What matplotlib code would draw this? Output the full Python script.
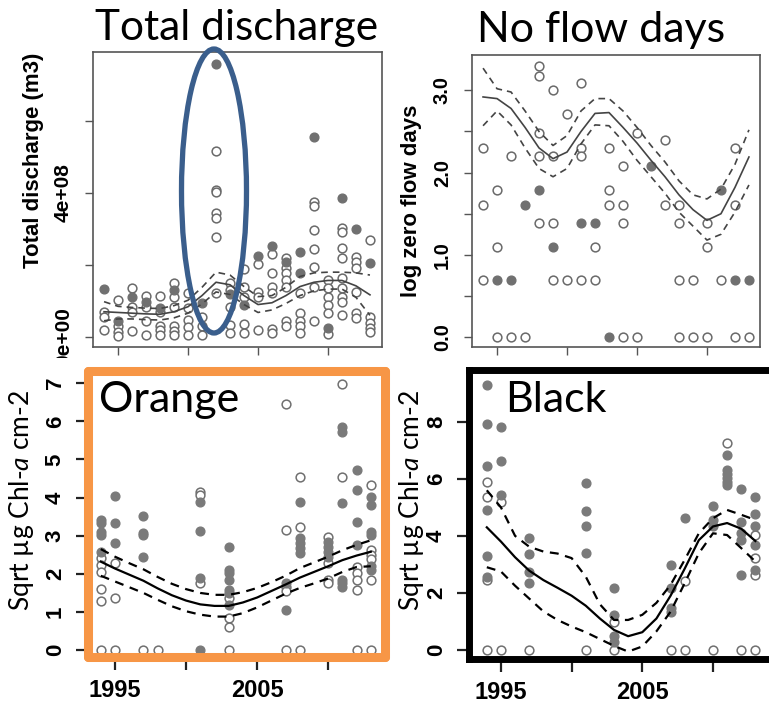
import matplotlib
matplotlib.use("Agg")
import matplotlib.pyplot as plt
from matplotlib.patches import Ellipse, Rectangle

plt.rcParams['mathtext.fontset'] = 'custom'
plt.rcParams['mathtext.rm'] = 'Lato'
plt.rcParams['mathtext.it'] = 'Lato:italic'

# ---------------- data ----------------
years = list(range(1994, 2014))

# Total discharge (units of 1e8 m3)
tl_open = [
    (1994, 0.70), (1994, 0.56), (1994, 0.19),
    (1995, 1.03), (1995, 0.29), (1995, 0.15), (1995, 0.03),
    (1996, 1.36), (1996, 0.84), (1996, 0.70), (1996, 0.17),
    (1997, 1.14), (1997, 0.84), (1997, 0.43), (1997, 0.06),
    (1998, 1.14), (1998, 0.68), (1998, 0.31), (1998, 0.18), (1998, 0.04),
    (1999, 1.51), (1999, 1.12), (1999, 0.82), (1999, 0.31), (1999, 0.17), (1999, 0.04),
    (2000, 1.21), (2000, 0.80), (2000, 0.47), (2000, 0.28), (2000, 0.04),
    (2001, 0.56), (2001, 0.29), (2001, 0.04),
    (2002, 5.18), (2002, 4.08), (2002, 4.04), (2002, 3.45), (2002, 3.30), (2002, 2.79), (2002, 1.21),
    (2003, 1.50), (2003, 1.30), (2003, 0.84), (2003, 0.33), (2003, 0.10),
    (2004, 1.88), (2004, 1.38), (2004, 1.12), (2004, 0.36), (2004, 0.12),
    (2005, 2.03), (2005, 1.26), (2005, 1.12), (2005, 0.19),
    (2006, 2.31), (2006, 1.77), (2006, 1.40), (2006, 1.22), (2006, 0.21), (2006, 0.10),
    (2007, 2.19), (2007, 1.91), (2007, 1.77), (2007, 1.58), (2007, 1.40), (2007, 0.43), (2007, 0.29),
    (2008, 1.22), (2008, 0.66), (2008, 0.43), (2008, 0.29), (2008, 0.10),
    (2009, 3.74), (2009, 3.65), (2009, 2.97), (2009, 2.44), (2009, 1.95), (2009, 1.40), (2009, 0.43),
    (2010, 1.58), (2010, 1.35), (2010, 1.12), (2010, 0.89), (2010, 0.66), (2010, 0.08),
    (2011, 3.02), (2011, 2.93), (2011, 2.47), (2011, 2.19), (2011, 1.64), (2011, 1.35), (2011, 1.12), (2011, 0.98), (2011, 0.61),
    (2012, 2.23), (2012, 2.07), (2012, 1.91), (2012, 1.26), (2012, 0.66), (2012, 0.52),
    (2013, 2.69), (2013, 0.56), (2013, 0.40), (2013, 0.24), (2013, 0.15),
]
tl_filled = [
    (1994, 1.32), (1995, 0.44), (1996, 1.12), (1997, 0.97), (1998, 0.80),
    (1999, 1.31), (2001, 0.94), (2002, 7.60), (2003, 1.19), (2004, 0.90),
    (2005, 2.25), (2006, 2.53), (2007, 2.07), (2008, 2.37), (2008, 1.77),
    (2009, 5.56), (2010, 0.24), (2011, 3.87), (2012, 2.99), (2013, 2.05),
]
tl_fit = [0.70, 0.68, 0.66, 0.64, 0.63, 0.70, 0.84, 1.15, 1.52, 1.45,
          1.15, 0.90, 0.95, 1.15, 1.40, 1.52, 1.57, 1.57, 1.42, 1.17]
tl_upper = [0.98, 0.85, 0.82, 0.80, 0.79, 0.87, 1.02, 1.38, 1.80, 1.72,
            1.40, 1.12, 1.15, 1.38, 1.68, 1.78, 1.80, 1.80, 1.78, 1.72]
tl_lower = [0.45, 0.50, 0.50, 0.48, 0.47, 0.53, 0.66, 0.92, 1.25, 1.18,
            0.90, 0.68, 0.75, 0.93, 1.15, 1.28, 1.33, 1.33, 1.10, 0.60]
tl_yticks = [0, 2e8, 4e8, 6e8]
tl_yticklabels = ['0e+00', '', '4e+08', '']

# No flow days (log)
tr_open = [
    (1994, 2.30), (1994, 1.61), (1994, 0.69),
    (1995, 1.79), (1995, 1.10), (1995, 0.0),
    (1996, 2.20), (1996, 0.0),
    (1997, 0.0),
    (1998, 3.30), (1998, 3.18), (1998, 2.48), (1998, 2.20), (1998, 1.39),
    (1999, 3.00), (1999, 2.20), (1999, 1.39), (1999, 0.69),
    (2000, 2.71), (2000, 0.69),
    (2001, 3.09), (2001, 2.30), (2001, 2.20), (2001, 0.69),
    (2002, 1.10), (2002, 0.69),
    (2003, 2.30), (2003, 1.79), (2003, 1.61),
    (2004, 2.08), (2004, 1.61), (2004, 1.39), (2004, 0.0),
    (2005, 2.48), (2005, 0.0),
    (2007, 2.40), (2007, 1.61),
    (2008, 1.61), (2008, 1.39), (2008, 0.69), (2008, 0.0),
    (2009, 0.69), (2009, 0.0),
    (2010, 1.39), (2010, 1.10), (2010, 0.0),
    (2011, 0.69),
    (2012, 2.30), (2012, 1.61), (2012, 0.0),
    (2013, 0.0),
]
tr_filled = [
    (1995, 0.69), (1996, 0.69), (1997, 1.61), (1998, 1.79), (1999, 1.10),
    (2001, 1.39), (2002, 1.39), (2003, 0.0), (2006, 2.08), (2011, 1.79),
    (2012, 0.69), (2013, 0.69),
]
tr_fit = [2.92, 2.90, 2.78, 2.55, 2.30, 2.17, 2.25, 2.50, 2.72, 2.73,
          2.55, 2.36, 2.15, 1.95, 1.73, 1.55, 1.42, 1.50, 1.82, 2.19]
tr_upper = [3.27, 3.02, 2.98, 2.75, 2.50, 2.33, 2.45, 2.75, 2.90, 2.90,
            2.75, 2.55, 2.33, 2.13, 1.90, 1.73, 1.68, 1.80, 2.10, 2.52]
tr_lower = [2.57, 2.75, 2.58, 2.30, 2.05, 1.95, 2.05, 2.35, 2.58, 2.57,
            2.38, 2.15, 1.95, 1.75, 1.52, 1.35, 1.18, 1.25, 1.52, 1.85]
tr_yticks = [0.0, 0.5, 1.0, 1.5, 2.0, 2.5, 3.0]
tr_yticklabels = ['0.0', '', '1.0', '', '2.0', '', '3.0']

# Orange (sqrt chl-a)
bl_open = [
    (1994, 2.41), (1994, 2.23), (1994, 2.05), (1994, 1.60), (1994, 1.29), (1994, 0),
    (1995, 2.28), (1995, 1.38), (1995, 0),
    (1997, 0), (1998, 0),
    (2001, 4.15), (2001, 4.07), (2001, 1.75),
    (2003, 1.38), (2003, 0.83), (2003, 0.61), (2003, 0),
    (2007, 6.46), (2007, 3.15), (2007, 1.66), (2007, 1.55), (2007, 0),
    (2008, 4.53), (2008, 3.24), (2008, 0),
    (2010, 2.97), (2010, 2.28), (2010, 1.84), (2010, 1.75),
    (2011, 6.97), (2011, 4.53),
    (2012, 2.19), (2012, 2.01), (2012, 1.85), (2012, 1.57), (2012, 0),
    (2013, 4.33), (2013, 2.62), (2013, 2.49), (2013, 2.38), (2013, 1.84), (2013, 0),
]
bl_filled = [
    (1994, 3.40), (1994, 3.33), (1994, 3.10), (1994, 3.02), (1994, 2.58),
    (1995, 4.04), (1995, 3.34), (1995, 2.80),
    (1997, 3.52), (1997, 3.08), (1997, 3.02), (1997, 2.43),
    (2001, 3.89), (2001, 3.13), (2001, 1.88), (2001, 0),
    (2003, 2.71), (2003, 2.10), (2003, 2.03), (2003, 1.84), (2003, 1.57), (2003, 1.50), (2003, 1.18),
    (2007, 1.75), (2007, 1.05),
    (2008, 3.89), (2008, 2.93), (2008, 2.80), (2008, 2.67), (2008, 2.54),
    (2010, 2.84), (2010, 2.71), (2010, 2.58), (2010, 2.45),
    (2011, 5.84), (2011, 5.73), (2011, 3.85), (2011, 1.84), (2011, 1.75), (2011, 1.66),
    (2012, 4.72), (2012, 4.20), (2012, 3.37), (2012, 2.76),
    (2013, 4.02), (2013, 3.81), (2013, 3.10), (2013, 3.02), (2013, 2.20), (2013, 2.10),
]
bl_fit = [2.32, 2.14, 1.98, 1.82, 1.62, 1.44, 1.30, 1.20, 1.16, 1.16,
          1.25, 1.38, 1.55, 1.72, 1.90, 2.05, 2.20, 2.36, 2.48, 2.58]
bl_upper = [2.65, 2.45, 2.28, 2.12, 1.92, 1.74, 1.60, 1.50, 1.45, 1.45,
            1.52, 1.63, 1.78, 1.95, 2.15, 2.30, 2.45, 2.62, 2.76, 2.88]
bl_lower = [1.95, 1.80, 1.65, 1.50, 1.32, 1.15, 1.02, 0.93, 0.88, 0.88,
            0.97, 1.12, 1.30, 1.48, 1.63, 1.75, 1.88, 2.05, 2.18, 2.20]
bl_yticks = [0, 1, 2, 3, 4, 5, 6, 7]

# Black (sqrt chl-a)
br_open = [
    (1994, 5.88), (1994, 5.38), (1994, 2.45), (1994, 0),
    (1995, 5.20), (1995, 0),
    (1997, 0), (2001, 0),
    (2003, 0.99), (2003, 0),
    (2007, 0), (2008, 2.40), (2008, 0), (2010, 0),
    (2011, 7.25), (2012, 0),
    (2013, 4.04), (2013, 3.23), (2013, 2.63), (2013, 0),
]
br_filled = [
    (1994, 9.30), (1994, 7.93), (1994, 6.46), (1994, 4.91), (1994, 3.30), (1994, 2.57),
    (1995, 7.81), (1995, 6.63), (1995, 5.42),
    (1997, 3.92), (1997, 3.37), (1997, 2.75), (1997, 2.34),
    (2001, 5.85), (2001, 4.89), (2001, 4.35), (2001, 3.39),
    (2003, 2.16), (2003, 1.23), (2003, 0.47), (2003, 0.29),
    (2007, 2.98), (2007, 2.18), (2007, 1.47), (2007, 1.33),
    (2008, 4.64),
    (2010, 5.05), (2010, 4.56), (2010, 4.33),
    (2011, 6.84), (2011, 6.32), (2011, 6.18), (2011, 6.04), (2011, 5.90), (2011, 5.79),
    (2012, 5.64), (2012, 4.50), (2012, 4.10), (2012, 3.86), (2012, 2.63),
    (2013, 5.38), (2013, 4.77), (2013, 4.33), (2013, 3.68), (2013, 2.81),
]
br_fit = [4.30, 3.80, 3.25, 2.78, 2.45, 2.18, 1.90, 1.55, 1.10, 0.70,
          0.48, 0.62, 1.10, 1.90, 2.85, 3.85, 4.33, 4.45, 4.25, 3.82]
br_upper = [5.60, 5.00, 4.00, 3.62, 3.45, 3.38, 3.22, 2.57, 1.60, 1.05,
            1.05, 1.23, 1.65, 2.28, 3.16, 4.09, 4.62, 4.91, 4.74, 4.56]
br_lower = [2.90, 2.75, 2.25, 1.80, 1.35, 1.05, 0.82, 0.62, 0.38, 0.14,
            -0.06, 0.12, 0.65, 1.34, 2.34, 3.39, 4.09, 4.03, 3.57, 3.10]
br_yticks = [0, 2, 4, 6, 8]

xticks = [1995, 2000, 2005, 2010]
bottom_xticklabels = ['1995', '', '2005', '']

# ---------------- figure ----------------
W, H = 769, 704
fig = plt.figure(figsize=(W / 100, H / 100), dpi=100)


def px_axes(l, t, r, b):
    return fig.add_axes([l / W, 1 - b / H, (r - l) / W, (b - t) / H])


def scatter(ax, pts, filled, scale=1.0, ms=6.3, fcol='#707070', ecol='#6a6a6a'):
    xs = [p[0] for p in pts]
    ys = [p[1] * scale for p in pts]
    if filled:
        ax.plot(xs, ys, 'o', ms=ms, mfc=fcol, mec=fcol, mew=1.0, ls='none', zorder=2)
    else:
        ax.plot(xs, ys, 'o', ms=ms, mfc='white', mec=ecol, mew=1.1, ls='none', zorder=2)


def smooth(ax, fit, up, lo, scale=1.0, color='#444444', lw=1.2):
    ax.plot(years, [v * scale for v in fit], color=color, lw=lw, zorder=3)
    ax.plot(years, [v * scale for v in up], color=color, lw=lw, ls=(0, (4, 3)), zorder=3)
    ax.plot(years, [v * scale for v in lo], color=color, lw=lw, ls=(0, (4, 3)), zorder=3)


def px_text(x, y, s, **kw):
    return fig.text(x / W, 1 - y / H, s, **kw)


tick_font = dict(family='Liberation Sans')

# ---- top-left ----
ax1 = px_axes(93, 52, 382, 347)
scatter(ax1, tl_open, False, 1e8)
scatter(ax1, tl_filled, True, 1e8)
smooth(ax1, tl_fit, tl_upper, tl_lower, 1e8)
ax1.set_xlim(1993.21, 2013.86)
ax1.set_ylim(-0.28e8, 7.92e8)
ax1.set_yticks(tl_yticks)
ax1.set_yticklabels(tl_yticklabels, rotation=90, va='center', ha='right',
                    fontsize=15, fontweight='bold', **tick_font)
ax1.set_xticks(xticks)
ax1.set_xticklabels([])

# ---- top-right ----
ax2 = px_axes(472, 55, 760, 347)
scatter(ax2, tr_open, False)
scatter(ax2, tr_filled, True)
smooth(ax2, tr_fit, tr_upper, tr_lower)
ax2.set_xlim(1993.21, 2013.79)
ax2.set_ylim(-0.12, 3.43)
ax2.set_yticks(tr_yticks)
ax2.set_yticklabels(tr_yticklabels, rotation=90, va='center', ha='right',
                    fontsize=14.5, fontweight='bold', **tick_font)
ax2.set_xticks(xticks)
ax2.set_xticklabels([])

for ax in (ax1, ax2):
    for s in ax.spines.values():
        s.set_color('#555555')
        s.set_linewidth(1.2)
    ax.tick_params(direction='out', length=6, width=1.0, color='#555555', pad=8.5)
    ax.set_zorder(0)

px_text(34, 160, 'Total discharge (m3)', rotation=90, ha='center', va='center',
        fontsize=16, fontweight='bold', family='Liberation Sans')
px_text(411, 201, 'log zero flow days', rotation=90, ha='center', va='center',
        fontsize=16, fontweight='bold', family='Liberation Sans')

# white mask that hides the lower part of the top panels' margins
fig.add_artist(Rectangle((0, 0), 1, (H - 358) / H, transform=fig.transFigure,
                         facecolor='white', edgecolor='none', zorder=1))

# ---- bottom-left (Orange) ----
ax3 = px_axes(88, 371, 385, 657)
scatter(ax3, bl_open, False, ms=6.3, ecol='#707070')
scatter(ax3, bl_filled, True, ms=6.3, fcol='#7a7a7a')
smooth(ax3, bl_fit, bl_upper, bl_lower, color='black', lw=1.6)
ax3.set_xlim(1993.1, 2014.0)
ax3.set_ylim(-0.18, 7.32)
ax3.set_yticks(bl_yticks)
ax3.set_yticklabels([str(v) for v in bl_yticks], rotation=90, va='center', ha='right',
                    fontsize=16, fontweight='bold', **tick_font)
for s in ax3.spines.values():
    s.set_color('#F79646')
    s.set_linewidth(6.5)
    s.set_capstyle('round')

# ---- bottom-right (Black) ----
ax4 = px_axes(469, 370, 790, 659)
scatter(ax4, br_open, False, ms=6.3, ecol='#707070')
scatter(ax4, br_filled, True, ms=6.3, fcol='#7a7a7a')
smooth(ax4, br_fit, br_upper, br_lower, color='black', lw=1.6)
ax4.set_xlim(1992.74, 2015.45)
ax4.set_ylim(-0.32, 9.82)
ax4.set_yticks(br_yticks)
ax4.set_yticklabels([str(v) for v in br_yticks], rotation=90, va='center', ha='right',
                    fontsize=16, fontweight='bold', **tick_font)
for s in ax4.spines.values():
    s.set_color('black')
    s.set_linewidth(5.0)

for ax in (ax3, ax4):
    ax.set_xticks(xticks)
    ax.set_xticklabels(bottom_xticklabels, fontsize=17, fontweight='bold', **tick_font)
    ax.tick_params(direction='out', length=9, width=1.6, color='#222222', pad=7)
    ax.set_zorder(2)

ylab = 'Sqrt µg Chl-$\\mathit{a}$ cm-2'
t3 = px_text(22, 500, ylab, rotation=90, ha='center', va='center', fontsize=19, family='Lato')
t4 = px_text(412, 500, ylab, rotation=90, ha='center', va='center', fontsize=19, family='Lato')
t3.set_zorder(5)
t4.set_zorder(5)

# ---- titles / panel labels ----
px_text(237, 40, 'Total discharge', ha='center', va='baseline', fontsize=30.5, family='Lato')
px_text(601, 42, 'No flow days', ha='center', va='baseline', fontsize=31, family='Lato')
ax3.text(99 / W, 1 - 412 / H, 'Orange', transform=fig.transFigure, ha='left',
         va='baseline', fontsize=31, family='Lato', zorder=5)
ax4.text(505 / W, 1 - 412 / H, 'Black', transform=fig.transFigure, ha='left',
         va='baseline', fontsize=31, family='Lato', zorder=5)

# ---- highlight ellipse ----
fig.add_artist(Ellipse((214 / W, 1 - 191 / H), 65 / W, 284 / H, transform=fig.transFigure,
                       fill=False, edgecolor='#3A5E8C', linewidth=3.8, zorder=3))

fig.savefig('out.png', dpi=100)
